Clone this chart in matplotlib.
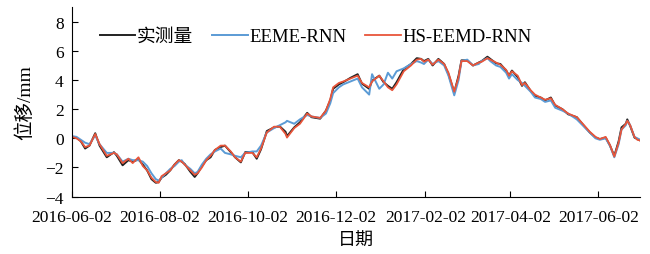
import pandas as pd
import matplotlib
matplotlib.use("Agg")
from matplotlib import pyplot as plt

# days after 2016-06-02
days = [0, 3, 6, 9, 12, 16, 19, 24, 29, 31,
        35, 39, 42, 46, 49, 52, 55, 58, 60, 62,
        65, 68, 71, 74, 76, 78, 82, 85, 87, 90,
        93, 96, 99, 103, 106, 110, 113, 117, 120, 125,
        128, 131, 135, 140, 144, 148, 149, 154, 158, 163,
        166, 172, 176, 179, 181, 185, 188, 193, 198, 201,
        206, 208, 213, 216, 219, 222, 225, 230, 235, 239,
        242, 244, 247, 250, 254, 258, 261, 265, 268, 270,
        274, 278, 282, 284, 288, 290, 294, 297, 301, 303,
        305, 309, 312, 314, 318, 321, 325, 328, 332, 335,
        340, 344, 350, 355, 359, 363, 366, 370, 373, 376,
        379, 381, 384, 385, 387, 390, 392, 394]

measured = [0.1, 0.05, -0.2, -0.7, -0.5, 0.35, -0.5, -1.3, -0.95, -1.2,
            -1.85, -1.5, -1.6, -1.45, -1.8, -2.2, -2.8, -3.05, -3.0, -2.7,
            -2.5, -2.2, -1.8, -1.5, -1.6, -1.75, -2.3, -2.65, -2.4, -1.9,
            -1.5, -1.3, -0.8, -0.6, -0.5, -0.95, -1.3, -1.65, -0.95, -0.95,
            -1.4, -0.75, 0.5, 0.75, 0.82, 0.45, 0.15, 0.75, 1.1, 1.75,
            1.45, 1.35, 1.9, 2.6, 3.4, 3.7, 3.85, 4.15, 4.4, 3.75,
            3.4, 3.95, 4.3, 3.85, 3.6, 3.4, 3.85, 4.75, 5.1, 5.5,
            5.45, 5.3, 5.45, 5.0, 5.45, 5.1, 4.4, 3.15, 4.3, 5.35,
            5.35, 5.0, 5.2, 5.3, 5.6, 5.45, 5.15, 5.1, 4.65, 4.3,
            4.65, 4.2, 3.6, 3.85, 3.25, 2.9, 2.8, 2.6, 2.8, 2.25,
            2.0, 1.65, 1.45, 0.85, 0.4, 0.05, -0.05, 0.05, -0.5, -1.2,
            -0.2, 0.75, 1.0, 1.3, 0.85, 0.05, -0.05, -0.15]

eeme_rnn = [0.15, 0.1, -0.1, -0.3, -0.4, 0.2, -0.4, -1.0, -1.0, -1.1,
            -1.6, -1.4, -1.5, -1.5, -1.6, -1.9, -2.4, -2.8, -2.9, -2.7,
            -2.4, -2.1, -1.9, -1.6, -1.5, -1.8, -2.1, -2.4, -2.3, -1.8,
            -1.4, -1.1, -0.9, -0.7, -1.0, -1.1, -1.2, -1.3, -1.0, -0.9,
            -0.9, -0.5, 0.4, 0.7, 0.9, 1.1, 1.2, 1.0, 1.3, 1.6,
            1.5, 1.4, 1.7, 2.4, 3.1, 3.5, 3.7, 3.9, 4.1, 3.5,
            3.0, 4.4, 3.4, 3.7, 4.5, 4.1, 4.6, 4.8, 5.1, 5.3,
            5.2, 5.1, 5.4, 5.1, 5.3, 5.0, 4.3, 2.95, 4.0, 5.3,
            5.4, 5.0, 5.1, 5.3, 5.5, 5.3, 5.0, 4.9, 4.5, 4.1,
            4.4, 4.0, 3.8, 3.6, 3.2, 2.8, 2.7, 2.5, 2.6, 2.1,
            1.9, 1.7, 1.3, 0.8, 0.4, 0.0, -0.1, 0.0, -0.5, -1.3,
            -0.4, 0.6, 0.9, 1.2, 0.9, 0.1, 0.0, -0.1]

hs_eemd_rnn = [0.1, 0.0, -0.2, -0.6, -0.5, 0.3, -0.4, -1.2, -1.0, -1.1,
               -1.7, -1.4, -1.7, -1.3, -1.9, -2.2, -2.7, -3.0, -3.05, -2.6,
               -2.4, -2.2, -1.8, -1.5, -1.6, -1.8, -2.2, -2.5, -2.4, -2.0,
               -1.5, -1.2, -0.8, -0.5, -0.5, -0.9, -1.3, -1.6, -1.0, -1.0,
               -1.3, -0.7, 0.4, 0.8, 0.8, 0.3, 0.05, 0.7, 1.0, 1.7,
               1.5, 1.4, 1.9, 2.7, 3.5, 3.8, 3.9, 4.1, 4.3, 3.8,
               3.5, 3.9, 4.3, 3.9, 3.5, 3.3, 3.7, 4.6, 5.0, 5.4,
               5.45, 5.25, 5.4, 5.05, 5.4, 5.1, 4.5, 3.2, 4.2, 5.3,
               5.3, 5.0, 5.2, 5.25, 5.5, 5.4, 5.2, 5.05, 4.7, 4.3,
               4.6, 4.3, 3.65, 3.8, 3.3, 3.0, 2.8, 2.65, 2.75, 2.3,
               2.0, 1.7, 1.45, 0.9, 0.45, 0.1, -0.05, 0.1, -0.45, -1.25,
               -0.3, 0.6, 1.0, 1.2, 0.9, 0.1, -0.1, -0.15]

tick_labels = ["2016-06-02", "2016-08-02", "2016-10-02", "2016-12-02",
               "2017-02-02", "2017-04-02", "2017-06-02"]

plt.rcParams['font.family'] = ['Liberation Serif', 'Noto Sans CJK SC']

dates = pd.Timestamp("2016-06-02") + pd.to_timedelta(days, unit="D")

fig = plt.figure(figsize=(6.5, 2.55), dpi=100)
ax = fig.add_axes([0.111, 0.225, 0.874, 0.743])

ax.plot(dates, measured, color="#222222", lw=1.4, label="实测量")
ax.plot(dates, eeme_rnn, color="#5B9BD5", lw=1.4, label="EEME-RNN")
ax.plot(dates, hs_eemd_rnn, color="#E8553A", lw=1.3, label="HS-EEMD-RNN")

ax.set_xlim(pd.Timestamp("2016-06-02"), pd.Timestamp("2017-07-01"))
ax.set_ylim(-4, 9)
ax.set_yticks(range(-4, 9, 2))
ax.set_xticks(pd.to_datetime(tick_labels))
ax.set_xticklabels(tick_labels)

ax.spines['top'].set_visible(False)
ax.spines['right'].set_visible(False)
ax.tick_params(direction="in", length=4, labelsize=12.5)
ax.tick_params(axis="x", pad=9)
ax.tick_params(axis="y", pad=6)

ax.set_xlabel("日期", fontsize=13, labelpad=5)
ax.set_ylabel("位移/mm", fontsize=14, labelpad=8)

ax.legend(loc="center left", bbox_to_anchor=(0.035, 0.845), ncol=3,
          frameon=False, fontsize=13.5, handlelength=1.9,
          handletextpad=0.1, columnspacing=1.0, borderaxespad=0)

fig.savefig("out.png", dpi=100)
